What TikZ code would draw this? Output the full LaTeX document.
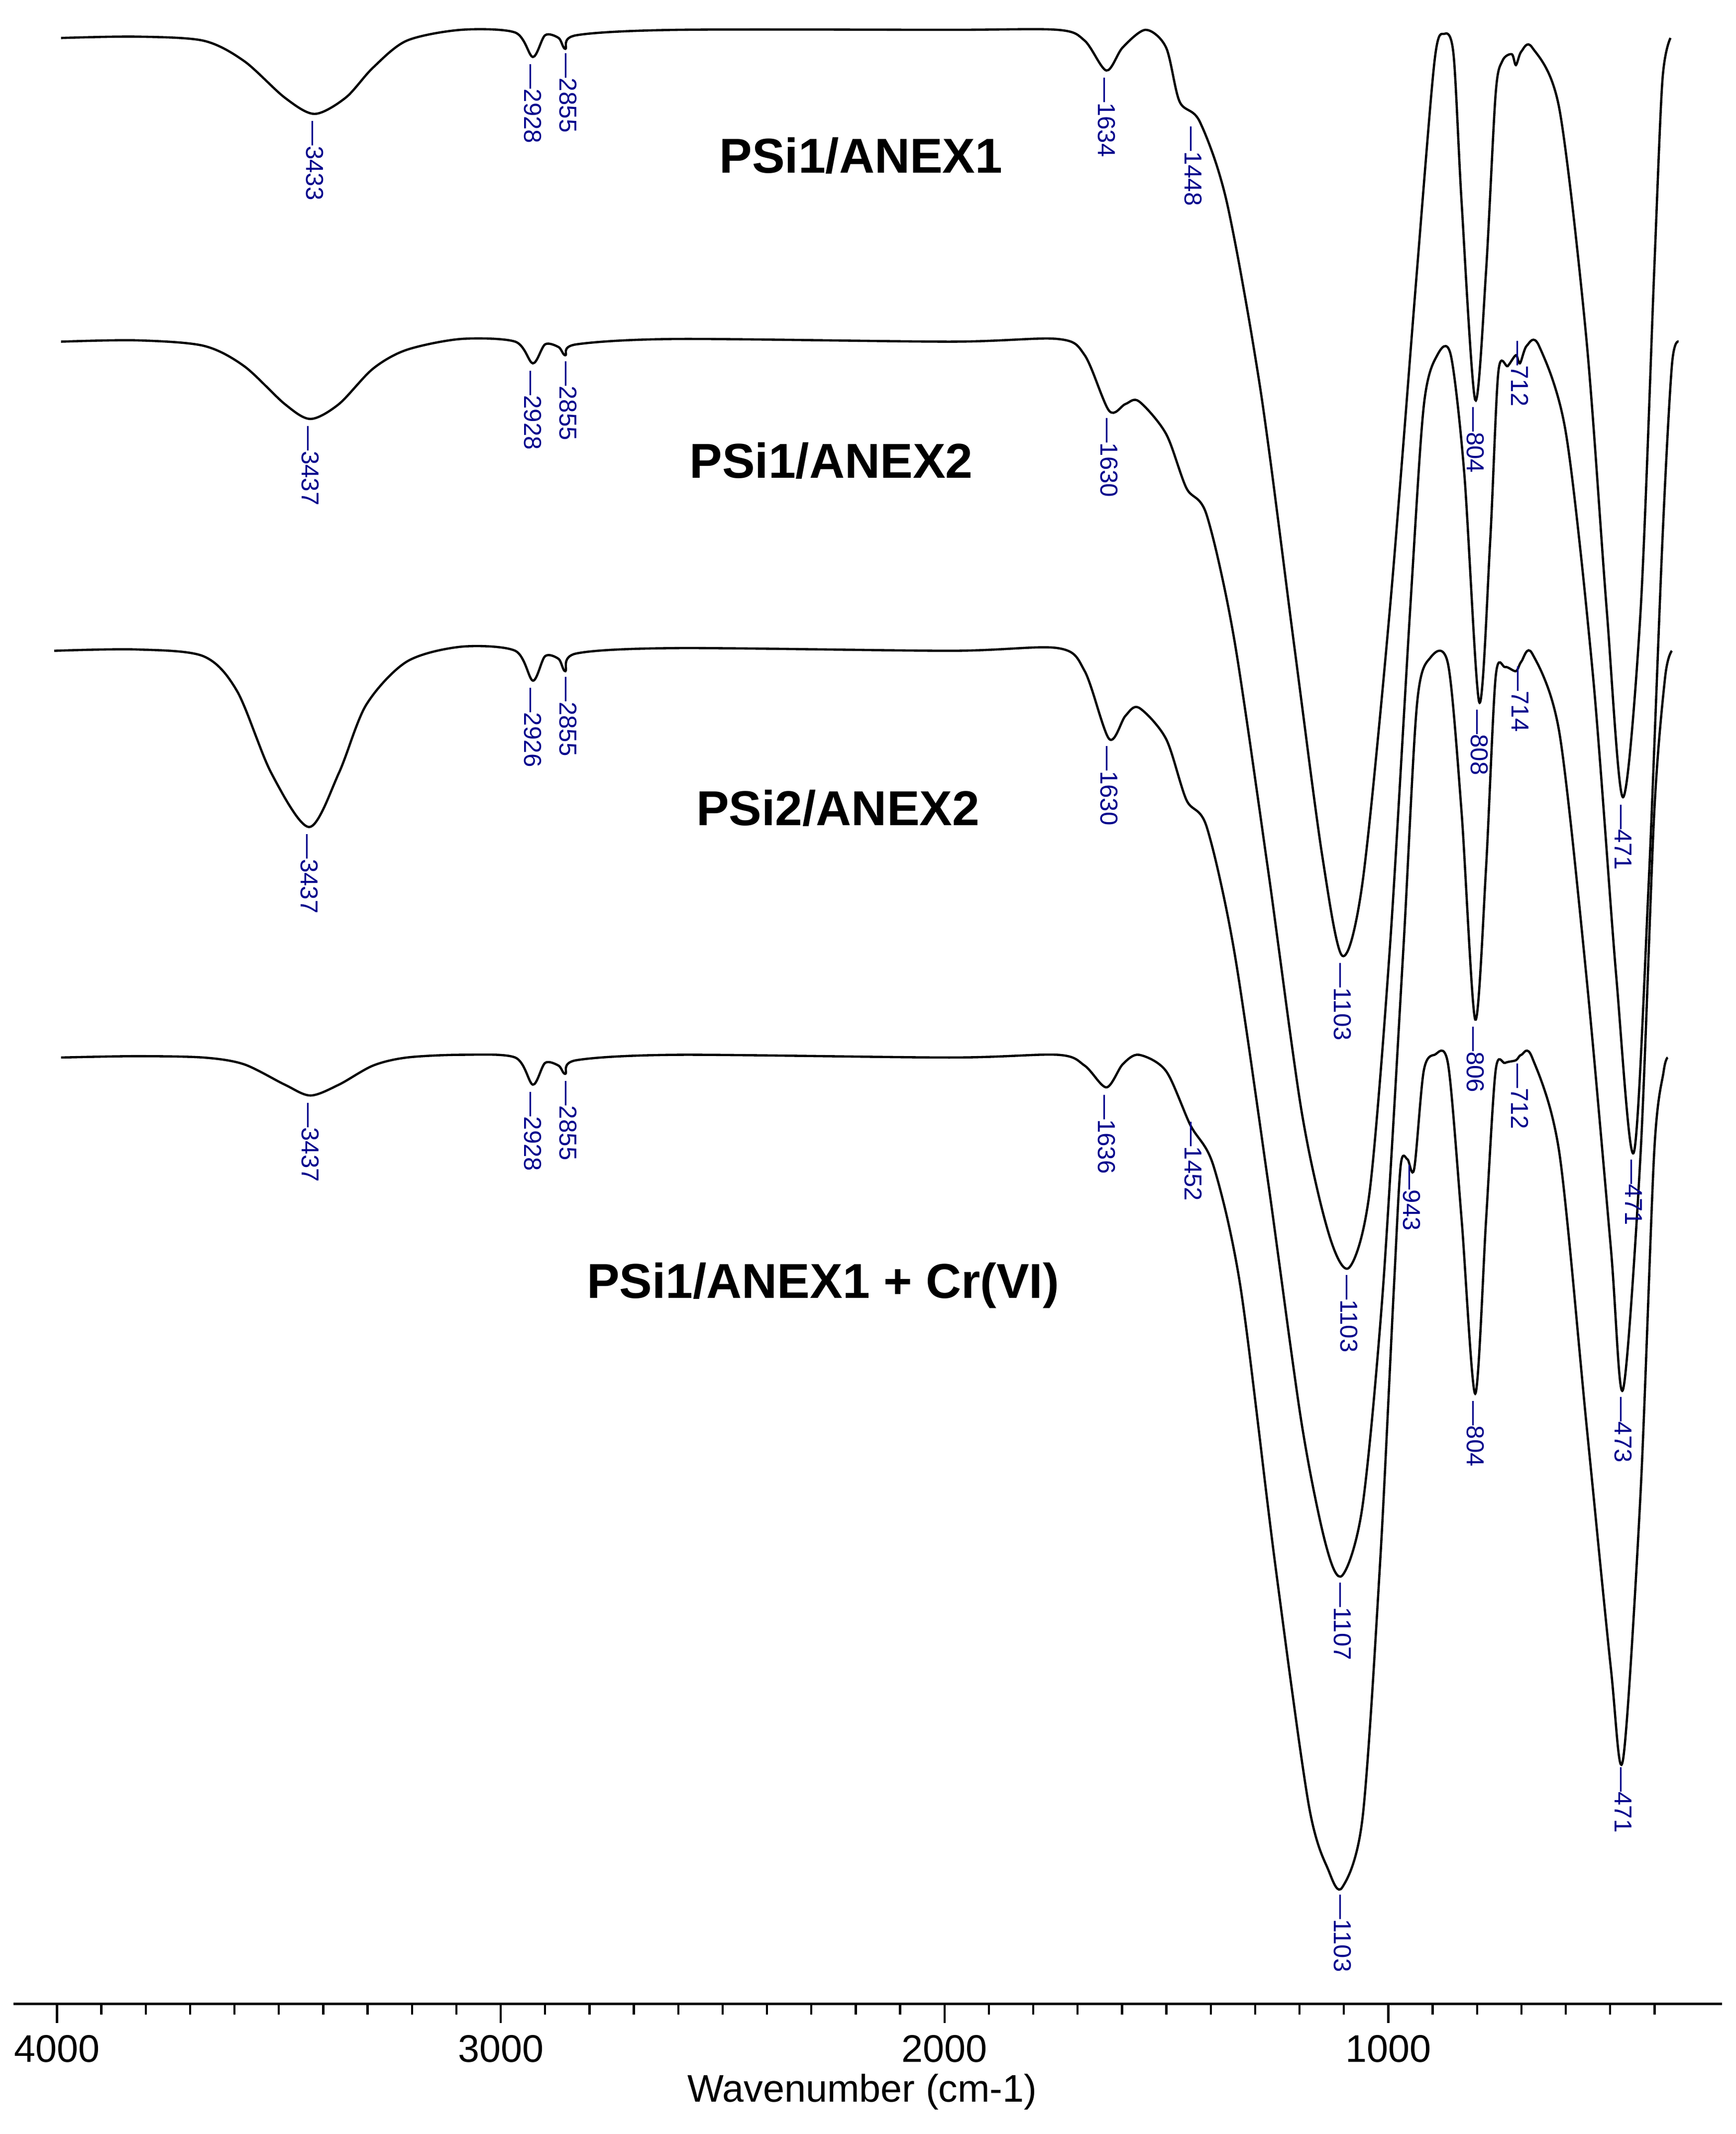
\documentclass[tikz,border=0pt]{standalone}
\usepackage{fontspec}
\setmainfont{Liberation Sans}
\begin{document}
\begin{tikzpicture}[x=0.027234cm,y=-0.027234cm,
 spec/.style={line width=1.3pt,black,smooth,tension=0.5},
 pk/.style={rotate=-90,anchor=west,text=blue!55!black,font=\fontsize{14}{14}\selectfont,inner sep=1pt},
 ttl/.style={font=\fontsize{28}{28}\selectfont\bfseries},
 ax/.style={line width=1.2pt}]
\useasboundingbox (0,0) rectangle (1280,1574);
% axis
\draw[ax] (10,1478) coordinate (a0) -- (1270,1478) coordinate (a1);
\foreach \w in {400,500,...,4000}{\draw[ax] ({42+(4000-\w)*0.3273},1478) -- ++(0,8);}
\foreach \w in {1000,2000,3000,4000}{\draw[ax] ({42+(4000-\w)*0.3273},1478) -- ++(0,14);
 \node[font=\fontsize{22}{22}\selectfont] (t\w) at ({42+(4000-\w)*0.3273},1511) {\w};}
\node[font=\fontsize{22}{22}\selectfont] (xl) at (636,1543) {Wavenumber (cm-1)};
% curve 1
\draw[spec] plot coordinates {(45,28)(100,27)(150,30)(180,45)(210,72)(232,84)(255,72)(275,50)(300,30)(340,22)(380,24)(393,42)(402,26)(412,28)(417,36)(425,26)(500,22)(700,22)(780,22)(800,30)(816,52)(828,35)(845,22)(860,35)(870,75)(885,90)(905,150)(930,290)(955,480)(975,630)(990,705)(1005,650)(1025,450)(1045,200)(1058,45)(1065,25)(1072,40)(1078,150)(1088,295)(1096,200)(1103,70)(1108,45)(1115,40)(1118,48)(1122,38)(1130,35)(1150,80)(1170,250)(1185,450)(1197,588)(1210,450)(1220,200)(1226,60)(1232,28)};
% curve 2
\draw[spec] plot coordinates {(45,252)(100,251)(150,255)(180,270)(210,298)(229,309)(250,298)(275,272)(300,258)(340,250)(380,252)(393,268)(402,254)(412,256)(417,262)(425,254)(500,250)(700,252)(780,250)(800,262)(818,303)(830,298)(840,296)(860,320)(875,360)(890,380)(910,470)(935,640)(960,820)(980,910)(995,935)(1010,880)(1025,700)(1040,450)(1050,300)(1060,262)(1070,262)(1080,350)(1091,518)(1099,400)(1105,275)(1112,270)(1118,262)(1121,268)(1126,255)(1135,255)(1155,320)(1175,500)(1192,720)(1205,850)(1216,650)(1226,400)(1233,270)(1238,252)};
% curve 3
\draw[spec] plot coordinates {(40,480)(100,479)(150,484)(175,510)(200,570)(228,610)(250,570)(270,520)(300,488)(340,477)(380,480)(393,502)(402,484)(412,486)(417,495)(425,482)(500,478)(700,480)(780,478)(800,495)(818,545)(830,528)(840,522)(860,545)(875,590)(890,610)(910,700)(935,870)(960,1050)(978,1140)(990,1162)(1005,1110)(1020,950)(1035,700)(1045,520)(1055,485)(1068,490)(1078,600)(1088,752)(1096,640)(1103,500)(1110,492)(1118,495)(1122,488)(1130,482)(1150,540)(1170,720)(1188,920)(1197,1025)(1210,850)(1220,600)(1228,500)(1233,480)};
% curve 4
\draw[spec] plot coordinates {(45,780)(100,779)(150,780)(180,785)(210,800)(229,808)(250,800)(275,786)(300,780)(340,778)(380,780)(393,800)(402,784)(412,786)(417,792)(425,782)(500,778)(700,780)(780,778)(800,786)(816,802)(828,785)(840,778)(860,790)(878,830)(895,860)(915,950)(940,1150)(965,1330)(980,1380)(990,1392)(1005,1340)(1018,1150)(1028,950)(1033,860)(1038,855)(1043,862)(1050,790)(1058,778)(1068,785)(1078,900)(1088,1028)(1096,900)(1103,790)(1110,784)(1118,782)(1122,778)(1130,780)(1150,850)(1170,1050)(1188,1230)(1197,1298)(1210,1100)(1220,850)(1227,790)(1230,780)};
% peak labels
\node[pk] (p1a) at (232,88) {---3433};
\node[pk] (p1b) at (393,46) {---2928};
\node[pk] (p1c) at (419,38) {---2855};
\node[pk] (p1d) at (816,56) {---1634};
\node[pk] (p1e) at (880,92) {---1448};
\node[pk] (p1f) at (990,709) {---1103};
\node[pk] (p1g) at (1088,299) {---804};
\node[pk] (p1h) at (1121,250) {---712};
\node[pk] (p1i) at (1197,592) {---471};
\node[pk] (p2a) at (229,313) {---3437};
\node[pk] (p2b) at (393,272) {---2928};
\node[pk] (p2c) at (419,265) {---2855};
\node[pk] (p2d) at (818,307) {---1630};
\node[pk] (p2f) at (995,939) {---1103};
\node[pk] (p2g) at (1091,522) {---808};
\node[pk] (p2h) at (1121,490) {---714};
\node[pk] (p2i) at (1205,854) {---471};
\node[pk] (p3a) at (228,614) {---3437};
\node[pk] (p3b) at (393,506) {---2926};
\node[pk] (p3c) at (419,498) {---2855};
\node[pk] (p3d) at (818,549) {---1630};
\node[pk] (p3f) at (990,1166) {---1107};
\node[pk] (p3g) at (1088,756) {---806};
\node[pk] (p3h) at (1121,783) {---712};
\node[pk] (p3i) at (1197,1029) {---473};
\node[pk] (p4a) at (229,812) {---3437};
\node[pk] (p4b) at (393,804) {---2928};
\node[pk] (p4c) at (419,796) {---2855};
\node[pk] (p4d) at (816,806) {---1636};
\node[pk] (p4e) at (880,826) {---1452};
\node[pk] (p4f) at (990,1396) {---1103};
\node[pk] (p4x) at (1041,858) {---943};
\node[pk] (p4g) at (1088,1032) {---804};
\node[pk] (p4i) at (1197,1302) {---471};
% titles
\node[ttl] (n1) at (635,115) {PSi1/ANEX1};
\node[ttl] (n2) at (613,340) {PSi1/ANEX2};
\node[ttl] (n3) at (618,596) {PSi2/ANEX2};
\node[ttl] (n4) at (607,948) {PSi1/ANEX1 + Cr(VI)};
\end{tikzpicture}
\end{document}
